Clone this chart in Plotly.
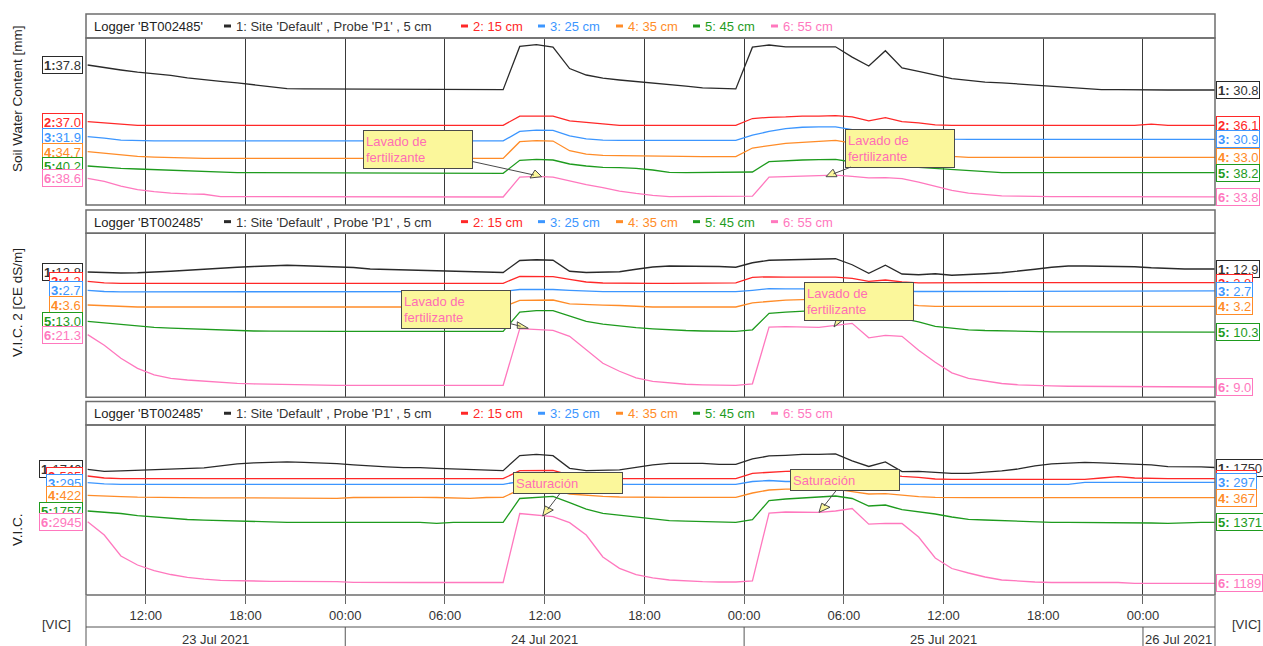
import pandas as pd
import plotly.graph_objects as go

# ---------------------------------------------------------------- data
# hourly readings (VIC local time)
times = pd.date_range("2021-07-23 08:30", periods=69, freq="h")
x_start, x_end = "2021-07-23 08:24", "2021-07-26 04:20"

logger_label = "Logger 'BT002485'"
depth_labels = ["1: Site 'Default' , Probe 'P1' , 5 cm", "2: 15 cm", "3: 25 cm",
                "4: 35 cm", "5: 45 cm", "6: 55 cm"]
day_labels = ["23 Jul 2021", "24 Jul 2021", "25 Jul 2021", "26 Jul 2021"]

# Soil Water Content [mm]
swc_1 = [37.8, 37.0, 36.4, 35.8, 35.4, 34.9, 34.2, 33.6, 33.2, 32.8,
         32.3, 31.8, 31.2, 31.1, 31.1, 31.1, 30.9, 30.9, 30.9, 30.9,
         30.9, 30.9, 30.9, 30.9, 30.9, 30.9, 43.0, 43.5, 42.8, 36.8,
         35.0, 34.1, 33.6, 33.2, 32.9, 32.5, 31.9, 31.4, 31.3, 31.1,
         42.8, 43.4, 42.9, 42.9, 42.9, 42.9, 40.0, 37.5, 41.8, 37.0,
         36.0, 34.9, 34.0, 33.5, 33.0, 32.8, 32.5, 32.1, 31.8, 31.4,
         31.1, 30.9, 30.9, 30.8, 30.8, 30.8, 30.8, 30.8, 30.8]
swc_2 = [37.0, 36.7, 36.3, 36.1, 36.1, 36.1, 36.1, 36.1, 36.1, 36.1,
         36.1, 36.1, 36.1, 36.1, 36.1, 36.1, 36.1, 36.1, 36.1, 36.1,
         36.1, 36.1, 36.1, 36.1, 36.1, 36.1, 38.4, 38.4, 38.4, 37.2,
         36.8, 36.4, 36.1, 36.1, 36.1, 36.1, 36.1, 36.1, 36.1, 36.1,
         37.8, 38.1, 38.2, 38.4, 38.4, 38.5, 38.2, 37.2, 38.0, 37.0,
         36.7, 36.2, 36.1, 36.1, 36.1, 36.1, 36.1, 36.1, 36.1, 36.1,
         36.1, 36.1, 36.1, 36.1, 36.4, 36.1, 36.1, 36.1, 36.1]
swc_3 = [31.9, 31.4, 30.6, 30.4, 30.3, 30.3, 30.3, 30.3, 30.3, 30.3,
         30.3, 30.3, 30.3, 30.3, 30.3, 30.3, 30.3, 30.3, 30.3, 30.3,
         30.3, 30.3, 30.3, 30.3, 30.3, 30.3, 33.9, 34.4, 34.3, 32.2,
         31.1, 30.6, 30.5, 30.5, 30.5, 30.5, 30.5, 30.5, 30.5, 30.5,
         32.5, 33.9, 35.0, 35.5, 35.6, 35.6, 34.6, 33.5, 34.1, 33.1,
         32.4, 31.6, 31.0, 30.9, 30.9, 30.9, 30.9, 30.9, 30.9, 30.9,
         30.9, 30.9, 30.9, 30.9, 30.9, 30.9, 30.9, 30.9, 30.9]
swc_4 = [34.7, 34.2, 33.7, 33.3, 33.1, 32.9, 32.7, 32.7, 32.7, 32.7,
         32.7, 32.7, 32.7, 32.7, 32.7, 32.7, 32.7, 32.7, 32.7, 32.7,
         32.7, 32.7, 32.7, 32.7, 32.7, 32.7, 37.7, 38.0, 37.9, 35.0,
         34.0, 33.6, 33.5, 33.4, 33.3, 33.2, 33.2, 33.2, 33.2, 33.2,
         35.8, 36.6, 37.2, 37.5, 37.9, 38.1, 37.3, 36.3, 37.0, 35.8,
         34.8, 33.9, 33.3, 33.0, 33.0, 33.0, 33.0, 33.0, 33.0, 33.0,
         33.0, 33.0, 33.0, 33.0, 33.0, 33.0, 33.0, 33.0, 33.0]
swc_5 = [40.2, 39.8, 39.5, 39.3, 39.1, 38.9, 38.6, 38.5, 38.3, 38.2,
         38.2, 38.2, 38.2, 38.2, 38.2, 38.2, 38.2, 38.0, 38.0, 38.0,
         38.0, 38.0, 38.0, 38.0, 38.0, 38.0, 41.9, 42.2, 42.0, 40.8,
         40.2, 39.8, 39.7, 39.5, 39.0, 38.3, 38.2, 38.2, 38.2, 38.2,
         38.4, 41.5, 41.8, 42.0, 42.1, 42.2, 41.4, 40.5, 40.8, 40.0,
         39.8, 39.5, 39.2, 38.9, 38.5, 38.2, 38.2, 38.2, 38.2, 38.2,
         38.2, 38.2, 38.2, 38.2, 38.0, 38.2, 38.0, 38.2, 38.2]
swc_6 = [38.6, 37.8, 36.6, 35.7, 35.2, 34.8, 34.6, 34.5, 33.9, 33.9,
         33.9, 33.9, 33.9, 33.9, 33.9, 33.9, 33.9, 33.9, 33.8, 33.8,
         33.8, 33.8, 33.8, 33.8, 33.8, 33.8, 38.9, 39.1, 38.9, 37.9,
         37.0, 36.2, 35.3, 34.7, 34.2, 33.9, 33.9, 33.9, 33.9, 33.9,
         34.0, 38.9, 39.0, 39.2, 39.3, 39.4, 39.1, 38.7, 38.8, 38.5,
         37.6, 36.5, 35.5, 34.8, 34.4, 34.1, 34.0, 33.9, 33.9, 33.9,
         33.9, 33.9, 33.9, 33.8, 33.8, 33.8, 33.8, 33.8, 33.8]

# V.I.C. 2 [CE dS/m]
vic2_1 = [12.80, 12.77, 12.76, 12.77, 12.79, 12.83, 12.87, 12.92, 12.95, 12.99,
          13.02, 13.05, 13.07, 13.05, 13.03, 13.01, 12.98, 12.92, 12.90, 12.90,
          12.89, 12.86, 12.84, 12.83, 12.81, 12.78, 13.26, 13.29, 13.27, 12.83,
          12.78, 12.78, 12.81, 12.91, 13.00, 13.04, 13.04, 13.03, 13.02, 12.99,
          13.17, 13.27, 13.29, 13.30, 13.31, 13.33, 13.09, 12.75, 13.07, 12.72,
          12.69, 12.73, 12.67, 12.69, 12.73, 12.77, 12.83, 12.91, 12.99, 13.04,
          13.04, 13.04, 13.04, 13.01, 12.97, 12.94, 12.92, 12.92, 12.92]
vic2_2 = [4.20, 3.75, 3.60, 3.60, 3.60, 3.60, 3.60, 3.60, 3.60, 3.60,
          3.60, 3.60, 3.60, 3.60, 3.60, 3.60, 3.60, 3.60, 3.60, 3.60,
          3.60, 3.60, 3.60, 3.60, 3.60, 3.60, 5.70, 5.64, 5.61, 4.80,
          3.99, 3.69, 3.60, 3.60, 3.60, 3.60, 3.60, 3.60, 3.60, 3.75,
          5.40, 5.55, 5.46, 5.46, 5.46, 5.46, 5.10, 4.20, 4.59, 4.05,
          3.75, 3.81, 3.81, 3.81, 3.81, 3.81, 3.81, 3.81, 3.81, 3.81,
          3.81, 3.81, 3.81, 3.81, 3.81, 3.81, 3.81, 3.81, 3.81]
vic2_3 = [2.70, 2.64, 2.62, 2.62, 2.62, 2.62, 2.62, 2.62, 2.62, 2.62,
          2.62, 2.62, 2.62, 2.62, 2.62, 2.62, 2.62, 2.62, 2.62, 2.64,
          2.64, 2.64, 2.64, 2.64, 2.64, 2.64, 2.74, 2.74, 2.74, 2.70,
          2.65, 2.63, 2.63, 2.63, 2.63, 2.63, 2.63, 2.63, 2.63, 2.63,
          2.70, 2.78, 2.77, 2.77, 2.77, 2.77, 2.73, 2.68, 2.70, 2.65,
          2.64, 2.64, 2.64, 2.64, 2.64, 2.64, 2.64, 2.64, 2.64, 2.67,
          2.67, 2.67, 2.67, 2.67, 2.67, 2.67, 2.67, 2.67, 2.67]
vic2_4 = [3.60, 3.36, 3.12, 3.00, 3.00, 3.00, 3.00, 3.00, 3.00, 3.00,
          3.00, 3.00, 3.00, 3.00, 3.00, 3.00, 3.00, 3.00, 3.00, 3.00,
          3.00, 3.00, 3.00, 3.00, 3.00, 3.00, 5.01, 5.07, 5.10, 3.96,
          3.66, 3.57, 3.45, 3.12, 3.00, 3.00, 3.00, 3.00, 3.00, 3.00,
          4.26, 4.71, 5.07, 5.22, 5.37, 5.52, 4.86, 4.11, 4.41, 3.81,
          3.42, 3.21, 3.21, 3.21, 3.21, 3.21, 3.21, 3.21, 3.21, 3.21,
          3.21, 3.21, 3.21, 3.21, 3.21, 3.21, 3.21, 3.21, 3.21]
vic2_5 = [13.00, 12.62, 12.17, 11.74, 11.49, 11.29, 11.11, 10.98, 10.81, 10.66,
          10.56, 10.53, 10.48, 10.48, 10.48, 10.48, 10.48, 10.48, 10.48, 10.48,
          10.48, 10.48, 10.48, 10.48, 10.48, 10.48, 15.34, 15.70, 15.70, 14.26,
          13.00, 12.29, 11.79, 11.41, 11.11, 10.86, 10.68, 10.56, 10.53, 10.48,
          10.86, 15.02, 15.34, 15.65, 15.77, 15.90, 15.27, 14.26, 14.51, 13.76,
          12.87, 11.74, 11.24, 10.86, 10.68, 10.56, 10.48, 10.35, 10.35, 10.35,
          10.35, 10.35, 10.35, 10.30, 10.30, 10.30, 10.30, 10.30, 10.30]
vic2_6 = [21.30, 18.79, 15.74, 13.39, 11.86, 11.04, 10.64, 10.34, 10.03, 9.87,
          9.71, 9.64, 9.57, 9.40, 9.40, 9.40, 9.40, 9.40, 9.40, 9.40,
          9.40, 9.40, 9.40, 9.40, 9.40, 9.40, 22.71, 22.43, 22.31, 20.90,
          17.62, 14.56, 12.69, 11.16, 10.34, 9.92, 9.64, 9.52, 9.40, 9.40,
          9.75, 23.06, 23.18, 23.13, 23.01, 23.48, 23.95, 20.55, 21.14, 20.90,
          17.62, 14.80, 12.33, 11.04, 10.34, 9.82, 9.52, 9.33, 9.24, 9.17,
          9.17, 9.17, 9.17, 9.00, 9.00, 9.00, 9.00, 9.00, 9.00]

# V.I.C.
vic_1 = [1740, 1728, 1730, 1733, 1738, 1742, 1745, 1748, 1760, 1772,
         1778, 1782, 1784, 1782, 1779, 1774, 1766, 1758, 1754, 1750,
         1750, 1745, 1742, 1740, 1736, 1732, 1822, 1829, 1822, 1746,
         1732, 1732, 1736, 1751, 1766, 1776, 1776, 1775, 1770, 1770,
         1802, 1820, 1824, 1830, 1830, 1832, 1790, 1757, 1784, 1726,
         1728, 1721, 1716, 1716, 1721, 1730, 1742, 1760, 1772, 1779,
         1782, 1779, 1776, 1772, 1766, 1756, 1756, 1754, 1750]
vic_2 = [505, 499, 497, 497, 497, 497, 497, 497, 497, 497,
         497, 497, 497, 497, 497, 497, 497, 497, 497, 497,
         497, 497, 497, 497, 497, 497, 521, 522, 522, 508,
         500, 497, 497, 497, 497, 497, 497, 497, 497, 497,
         513, 517, 519, 520, 521, 522, 514, 505, 511, 504,
         501, 496, 495, 495, 495, 495, 495, 495, 495, 495,
         495, 499, 503, 499, 497, 497, 497, 497, 497]
vic_3 = [295, 289, 287, 287, 287, 287, 287, 287, 287, 287,
         287, 287, 287, 287, 287, 287, 287, 287, 287, 287,
         287, 287, 287, 287, 287, 287, 301, 303, 303, 294,
         289, 287, 287, 287, 287, 287, 287, 287, 287, 287,
         301, 306, 301, 301, 301, 301, 296, 289, 291, 287,
         287, 287, 287, 287, 287, 287, 287, 287, 287, 287,
         297, 297, 297, 297, 297, 297, 297, 297, 297]
vic_4 = [422, 399, 390, 378, 371, 365, 365, 365, 365, 365,
         353, 353, 353, 353, 353, 353, 371, 376, 376, 376,
         376, 371, 360, 353, 371, 376, 551, 560, 555, 452,
         417, 399, 383, 376, 376, 376, 376, 376, 376, 376,
         475, 544, 562, 567, 567, 567, 509, 452, 459, 422,
         390, 376, 367, 367, 367, 367, 367, 367, 367, 367,
         367, 367, 367, 367, 367, 367, 367, 367, 367]
vic_5 = [1757, 1723, 1672, 1596, 1552, 1500, 1466, 1442, 1425, 1405,
         1381, 1371, 1371, 1371, 1371, 1371, 1371, 1371, 1371, 1371,
         1371, 1336, 1371, 1371, 1371, 1371, 2185, 2219, 2260, 2041,
         1825, 1678, 1610, 1542, 1483, 1425, 1408, 1391, 1371, 1371,
         1459, 2116, 2167, 2191, 2236, 2270, 2185, 1928, 1962, 1801,
         1740, 1654, 1552, 1473, 1449, 1425, 1398, 1381, 1371, 1371,
         1371, 1371, 1371, 1371, 1347, 1336, 1357, 1371, 1371]
vic_6 = [2945, 2566, 1967, 1711, 1554, 1440, 1360, 1306, 1275, 1261,
         1246, 1246, 1246, 1246, 1246, 1235, 1218, 1212, 1212, 1212,
         1212, 1212, 1207, 1212, 1212, 1212, 3179, 3142, 3088, 2917,
         2566, 1939, 1617, 1435, 1341, 1284, 1255, 1235, 1227, 1227,
         1261, 3193, 3221, 3213, 3213, 3250, 3321, 2874, 2899, 2894,
         2509, 1910, 1611, 1483, 1369, 1284, 1246, 1227, 1212, 1212,
         1212, 1212, 1212, 1189, 1189, 1189, 1189, 1189, 1189]

# ---------------------------------------------------------------- styling
FONT = "Liberation Sans, Arial, sans-serif"
colors = ["#2a2a2a", "#ff2828", "#3c96ff", "#ff8c28", "#1e9b1e", "#ff78be"]
text_colors = ["#333333", "#ff2828", "#3c96ff", "#ff8c28", "#1e9b1e", "#ff78be"]
frame_color = "#6d6d6d"

W, H = 1263, 646
ML, MR, MT, MB = 86, 48, 14, 51
PW, PH = W - ML - MR, H - MT - MB


def fx(px):
    return (px - ML) / PW


def fy(py):
    return (H - MB - py) / PH


# each series is drawn against its own (hidden) stacked scale
panels = [
    dict(title="Soil Water Content [mm]", title_y=99, head=14, top=38, bottom=205,
         values=[swc_1, swc_2, swc_3, swc_4, swc_5, swc_6], fmt="{:.1f}",
         ranges=[[-1.4, 45.36], [16.18, 57.93], [5.95, 69.41],
                 [18.71, 68.81], [28.5, 78.6], [31.74, 74.66]]),
    dict(title="V.I.C. 2 [CE dS/m]", title_y=303, head=210, top=233.3, bottom=397.3,
         values=[vic2_1, vic2_2, vic2_3, vic2_4, vic2_5, vic2_6], fmt="{:.1f}",
         ranges=[[7.788, 14.348], [-30.6, 18.6], [-2.65, 5.55],
                 [-24.09, 25.11], [-6.15, 35.18], [6.58, 45.08]]),
    dict(title="V.I.C.", title_y=530, head=401.5, top=425, bottom=595,
         values=[vic_1, vic_2, vic_3, vic_4, vic_5, vic_6], fmt="{:.0f}",
         ranges=[[985.8, 2005.8], [148, 658], [-266.5, 583.5],
                 [-1871.1, 2038.9], [-1115.8, 4698.2], [855.95, 5700.95]]),
]
x_names = ["x2", "x3", "x"]

fig = go.Figure()
layout = {}
annotations = []
shapes = []

for p, panel in enumerate(panels):
    base_n = p * 6 + 1
    base_name = "y" if base_n == 1 else f"y{base_n}"
    xa = x_names[p]
    for s in range(6):
        n = base_n + s
        yname = "y" if n == 1 else f"y{n}"
        vals = panel["values"][s]
        fig.add_trace(go.Scatter(
            x=times, y=vals, mode="lines", xaxis=xa, yaxis=yname,
            line=dict(color=colors[s], width=1.3), hoverinfo="skip", showlegend=False))

        ax = dict(range=panel["ranges"][s], showgrid=False, zeroline=False,
                  showticklabels=False, ticks="", showline=False, fixedrange=True,
                  anchor=xa)
        if s == 0:
            ax["domain"] = [fy(panel["bottom"]), fy(panel["top"])]
        else:
            ax["overlaying"] = base_name
        layout["yaxis" if n == 1 else f"yaxis{n}"] = ax

        # first / last value boxes
        common = dict(xref="paper", yref=yname, yanchor="middle", showarrow=False,
                      font=dict(family=FONT, size=13, color=text_colors[s]),
                      bgcolor="white", bordercolor=colors[s], borderwidth=1,
                      borderpad=1, height=14)
        annotations.append(dict(common, x=0, xanchor="right", xshift=-3, y=vals[0],
                                text=f"<b>{s + 1}:</b>{panel['fmt'].format(vals[0])}"))
        annotations.append(dict(common, x=1, xanchor="left", xshift=1, y=vals[-1],
                                text=f"<b>{s + 1}:</b> {panel['fmt'].format(vals[-1])}"))

    # x axis of the panel
    xd = dict(range=[x_start, x_end], type="date", anchor=base_name, domain=[0, 1],
              showgrid=True, gridcolor="#3a3a3a", gridwidth=1,
              dtick=6 * 3600 * 1000, tick0="2021-07-23 00:00",
              zeroline=False, showline=False, fixedrange=True)
    if xa == "x":
        xd.update(ticks="outside", ticklen=8, tickwidth=1, tickcolor="#666666",
                  tickformat="%H:%M", showticklabels=True,
                  tickfont=dict(family=FONT, size=13, color="#333333"))
    else:
        xd.update(showticklabels=False, ticks="")
    layout["xaxis" if xa == "x" else "xaxis" + xa[1:]] = xd

    # frames: header strip and plot area
    for y0, y1 in ((panel["head"], panel["top"]), (panel["top"], panel["bottom"])):
        shapes.append(dict(type="rect", xref="paper", yref="paper", x0=0, x1=1,
                           y0=fy(y1), y1=fy(y0), line=dict(color=frame_color, width=1.5),
                           layer="above"))

    # header legend
    hy = (panel["head"] + panel["top"]) / 2 + 0.5
    annotations.append(dict(x=fx(92), y=fy(hy), xref="paper", yref="paper",
                            xanchor="left", yanchor="middle", showarrow=False,
                            text=logger_label,
                            font=dict(family=FONT, size=13, color="#222222")))
    bar_x = [224, 461, 538, 616, 693, 771]
    for s in range(6):
        shapes.append(dict(type="rect", xref="paper", yref="paper",
                           x0=fx(bar_x[s]), x1=fx(bar_x[s] + 7),
                           y0=fy(hy + 1), y1=fy(hy - 2),
                           fillcolor=colors[s], line=dict(width=0)))
        annotations.append(dict(x=fx(bar_x[s] + 10), y=fy(hy), xref="paper", yref="paper",
                                xanchor="left", yanchor="middle", showarrow=False,
                                text=depth_labels[s],
                                font=dict(family=FONT, size=13, color=text_colors[s])))

    # y axis title
    annotations.append(dict(x=fx(17), y=fy(panel["title_y"]), xref="paper", yref="paper",
                            xanchor="center", yanchor="middle", textangle=-90,
                            showarrow=False, text=panel["title"],
                            font=dict(family=FONT, size=13.5, color="#222222")))

# ---------------------------------------------------------------- date row
axis_line = dict(color="#555555", width=1)
shapes.append(dict(type="line", xref="paper", yref="paper", x0=0, x1=1,
                   y0=fy(627), y1=fy(627), line=axis_line))
for xp in (0, 1):
    shapes.append(dict(type="line", xref="paper", yref="paper", x0=xp, x1=xp,
                       y0=fy(596), y1=fy(646), line=axis_line))

t0, t1 = pd.Timestamp(x_start), pd.Timestamp(x_end)
for i, label in enumerate(day_labels):
    d0 = pd.Timestamp("2021-07-23") + pd.Timedelta(days=i)
    d1 = d0 + pd.Timedelta(days=1)
    a, b = max(d0, t0), min(d1, t1)
    annotations.append(dict(x=a + (b - a) / 2, y=fy(639), xref="x", yref="paper",
                            xanchor="center", yanchor="middle", showarrow=False,
                            text=label, font=dict(family=FONT, size=13, color="#333333")))
    if d0 > t0:
        shapes.append(dict(type="line", xref="x", yref="paper", x0=d0, x1=d0,
                           y0=fy(627), y1=fy(646), line=axis_line))

for xpx in (56, 1246):
    annotations.append(dict(x=fx(xpx), y=fy(624), xref="paper", yref="paper",
                            xanchor="center", yanchor="middle", showarrow=False,
                            text="[VIC]", font=dict(family=FONT, size=13, color="#333333")))

# ---------------------------------------------------------------- callouts
note_fill = "#fbf79b"
note_line = "#4a4a4a"
callouts = [
    # text, box centre, arrow tip, pointer triangle (offsets from tip), text height
    ("Lavado de<br>fertilizante", (417.5, 149.5), (541.7, 176.7),
     [(0, 0), (-11.7, 1.3), (-6.7, -6.7)], 33),
    ("Lavado de<br>fertilizante", (900, 148), (826, 176.7),
     [(0, 0), (11, 0), (7, -7.5)], 33),
    ("Lavado de<br>fertilizante", (456, 309.5), (528.3, 328.3),
     [(0, 0), (-11, 0), (-11, -6.5)], 33),
    ("Lavado de<br>fertilizante", (859, 301), (834, 327),
     [(0, 0), (2, -7), (9, -7)], 33),
    ("Saturación", (568, 483), (542.7, 516),
     [(0, 0), (2.3, -10), (10.6, -6)], 16),
    ("Saturación", (844.5, 480), (819, 512.3),
     [(0, 0), (2.7, -9), (11, -5)], 16),
]
for text, (bx, by), (tx, ty), tri, th in callouts:
    path = "M" + " L".join(f"{ox},{-oy}" for ox, oy in tri) + " Z"
    shapes.append(dict(type="path", xref="paper", yref="paper",
                       xsizemode="pixel", ysizemode="pixel",
                       xanchor=fx(tx), yanchor=fy(ty), path=path,
                       fillcolor=note_fill, line=dict(color=note_line, width=1),
                       layer="above"))
    annotations.append(dict(x=fx(tx), y=fy(ty), xref="paper", yref="paper",
                            ax=bx - tx, ay=by - ty, axref="pixel", ayref="pixel",
                            showarrow=True, arrowhead=0, arrowwidth=1,
                            arrowcolor=note_line, standoff=8,
                            text=text, align="left", valign="middle",
                            width=104, height=th, borderpad=2, borderwidth=1,
                            bgcolor=note_fill, bordercolor=note_line,
                            font=dict(family=FONT, size=13, color="#ff6eb4")))

fig.update_layout(
    width=W, height=H,
    margin=dict(l=ML, r=MR, t=MT, b=MB, pad=0),
    paper_bgcolor="white", plot_bgcolor="white",
    font=dict(family=FONT, size=13, color="#333333"),
    showlegend=False,
    annotations=annotations,
    shapes=shapes,
    **layout,
)

fig.write_html("out.html")
